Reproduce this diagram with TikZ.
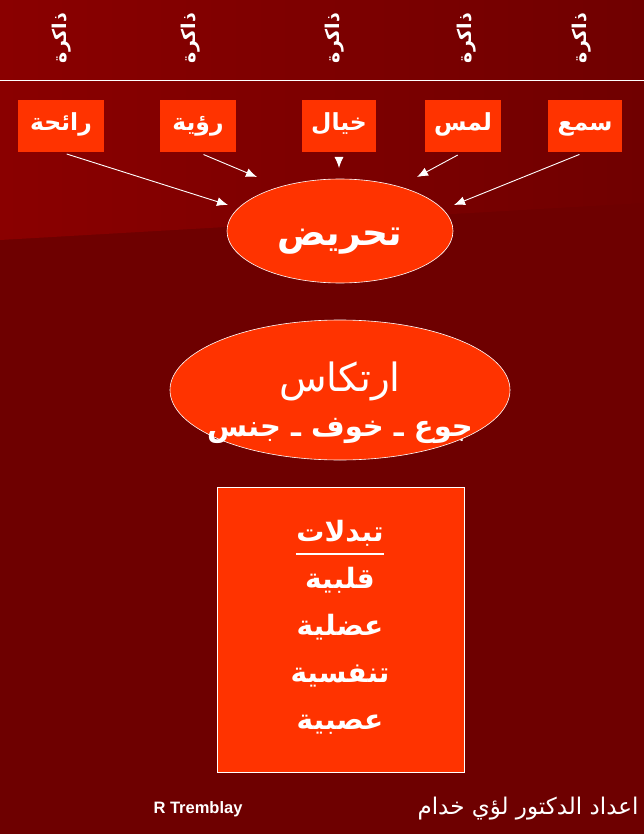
\documentclass[tikz,border=0pt]{standalone}
\usepackage{fontspec}
\usepackage{xcolor}
\usepackage{tikz}
\usetikzlibrary{shapes.geometric,arrows.meta}
\TeXXeTstate=1
\newfontfamily\arabicfont[Script=Arabic]{DejaVu Sans}
\newfontfamily\latinfont{Liberation Sans}
\definecolor{boxred}{HTML}{FF3300}
\definecolor{bgleft}{HTML}{8A0000}
\definecolor{bgright}{HTML}{700000}
\definecolor{bgdark}{HTML}{6E0000}
\newcommand\artext[1]{\beginR#1\endR}

\begin{document}
\begin{tikzpicture}[
x=1pt,y=-1pt,
mem/.style={
  text=white,
  rotate=90,
  font=\arabicfont\bfseries\fontsize{19}{22}\selectfont
  },
sense/.style={
  fill=boxred,
  minimum width=76pt,
  minimum height=52pt
  },
senselabel/.style={
  text=white,
  anchor=base,
  inner sep=0pt,
  font=\arabicfont\bfseries\fontsize{23.5}{26}\selectfont
  },
core/.style={
  ellipse,
  draw=white,
  line width=0.6pt,
  fill=boxred
  },
word/.style={
  text=white,
  anchor=base,
  inner sep=0pt
  },
change/.style={
  word,
  font=\arabicfont\bfseries\fontsize{28}{32}\selectfont
  },
link/.style={
  ->,
  white,
  line width=0.9pt,
  shorten <=6pt
  },
>={Latex[length=11pt,width=9pt]}
]
\useasboundingbox (0,0) rectangle (644,834);
% background
\fill[bgdark] (0,0) rectangle (644,834);
\shade[left color=bgleft, right color=bgright] (0,0) -- (644,0) -- (644,203) -- (0,240) -- cycle;
\draw[white, line width=1pt] (0,81) -- (644,81);

\foreach \x [count=\i] in {62,191,335,467,582}
  \node[mem] (m\i) at (\x,38) {\artext{ذاكرة}};

\foreach \w/\x/\bw [count=\i] in {رائحة/61/86,رؤية/198/76,خيال/339/74,لمس/463/76,سمع/585/74}
{
  \node[sense, minimum width=\bw pt] (s\i) at (\x,126) {};
  \node[senselabel] (l\i) at (\x,131) {\artext{\w}};
}

\node[core, minimum width=226pt, minimum height=104pt] (stim) at (340,231) {};
\node[word, font=\arabicfont\bfseries\fontsize{36}{40}\selectfont] (stimtxt) at (340,245) {\artext{تحريض}};

\coordinate (t1) at (228,205);
\coordinate (t2) at (257,177);
\coordinate (t3) at (339,168);
\coordinate (t4) at (417,177);
\coordinate (t5) at (454,205);
\foreach \i in {1,...,5}
  \draw[link] (s\i.south) -- (t\i);

\node[core, minimum width=340pt, minimum height=140pt] (react) at (340,390) {};
\node[word, font=\arabicfont\fontsize{39}{44}\selectfont] (r1) at (340,391) {\artext{ارتكاس}};
\node[word, font=\arabicfont\bfseries\fontsize{29}{34}\selectfont] (r2) at (340,436) {\artext{جوع ـ خوف ـ جنس}};

\node[draw=white, line width=0.6pt, fill=boxred, minimum width=247pt, minimum height=285pt] (chg) at (340.5,629.5) {};
\node[change] (h0) at (340,541) {\artext{تبدلات}};
\draw[white, line width=1.3pt] ([yshift=-13pt]h0.base west) -- ([yshift=-13pt]h0.base east);
\foreach \w [count=\i] in {قلبية,عضلية,تنفسية,عصبية}
  \node[change] (c\i) at (340,541+47*\i) {\artext{\w}};

\node[word, font=\latinfont\bfseries\fontsize{16.5}{18}\selectfont] (auth) at (198,813) {R Tremblay};
\node[word, font=\arabicfont\fontsize{23}{26}\selectfont] (prep) at (528,814) {\artext{اعداد الدكتور لؤي خدام}};
\end{tikzpicture}
\end{document}
